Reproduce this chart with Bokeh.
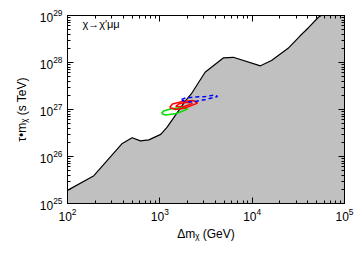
from bokeh.plotting import figure
from bokeh.models import LogAxis, Label, FixedTicker
from bokeh.embed import file_html
from bokeh.resources import INLINE

# boundary of excluded region (Delta m in GeV, tau*m in s TeV)
bound_x = [100, 193, 392, 501, 617, 760, 1023, 1200, 1900, 2190, 3090, 4900, 6240, 12300, 16200, 24500, 33100, 40700, 52500, 56200, 100000]
bound_y = [1.9e25, 3.9e25, 1.9e26, 2.5e26, 2.15e26, 2.26e26, 2.95e26, 4.2e26, 1.55e27, 2.14e27, 6.2e27, 1.26e28, 1.29e28, 8.5e27, 1.1e28, 2.0e28, 3.7e28, 5.5e28, 9.3e28, 1.0e29, 3.0e29]

# fit contours
red_out_x = [1274, 1479, 1897, 2559, 2317, 1762, 1374, 1274]
red_out_y = [1.10e27, 1.0e27, 1.08e27, 1.37e27, 1.55e27, 1.48e27, 1.31e27, 1.10e27]
red_in_x = [1479, 1850, 2260, 1950, 1600, 1479]
red_in_y = [1.16e27, 1.16e27, 1.35e27, 1.42e27, 1.31e27, 1.16e27]
green_x = [1042, 1153, 1517, 1995, 1852, 1374, 1096, 1042]
green_y = [8.2e26, 7.64e26, 8.2e26, 1.02e27, 1.10e27, 1.05e27, 9.3e26, 8.2e26]
blue_x = [1718, 1897, 2437, 3127, 4217, 3917, 3127, 2437, 1897, 1718]
blue_y = [1.63e27, 1.45e27, 1.48e27, 1.63e27, 1.89e27, 2.04e27, 1.89e27, 1.85e27, 1.76e27, 1.63e27]

x_ticks = [1e2, 1e3, 1e4, 1e5]
y_ticks = [1e25, 1e26, 1e27, 1e28, 1e29]

p = figure(width=358, height=250, x_axis_type="log", y_axis_type="log",
           x_range=(1e2, 1e5), y_range=(1e25, 1e29),
           output_backend="svg", toolbar_location=None,
           min_border_left=67, min_border_right=14, min_border_top=15, min_border_bottom=47)
p.grid.visible = False
p.outline_line_color = "black"
p.outline_line_width = 1

px = bound_x + [1e5, 1e2]
py = bound_y + [1e25, 1e25]
p.patch(px, py, fill_color="#c0c0c0", line_color=None)
p.line(bound_x, bound_y, line_color="black", line_width=1.2)

p.line(green_x, green_y, line_color="#00dd00", line_width=1.5)
p.line(red_out_x, red_out_y, line_color="red", line_width=1.5)
p.line(red_in_x, red_in_y, line_color="red", line_width=1.5)
p.line(blue_x, blue_y, line_color="blue", line_width=1.5, line_dash="4 3")

def minors(t):
    return [a * b for a in t[:-1] for b in range(2, 10)]

def style(ax):
    ax.major_tick_in = 6
    ax.major_tick_out = 0
    ax.minor_tick_in = 3
    ax.minor_tick_out = 0
    ax.axis_line_color = "black"
    ax.major_tick_line_color = "black"
    ax.minor_tick_line_color = "black"
    ax.major_label_text_font = "Liberation Sans"
    ax.major_label_text_font_size = "12px"
    ax.major_label_text_color = "black"
    ax.axis_label_text_font = "Liberation Sans"
    ax.axis_label_text_font_size = "12px"
    ax.axis_label_text_font_style = "normal"
    ax.axis_label_text_color = "black"

style(p.xaxis[0])
style(p.yaxis[0])
p.xaxis[0].ticker = FixedTicker(ticks=x_ticks, minor_ticks=minors(x_ticks))
p.yaxis[0].ticker = FixedTicker(ticks=y_ticks, minor_ticks=minors(y_ticks))
p.xaxis[0].axis_label = "Δmᵪ (GeV)"
p.yaxis[0].axis_label = "τ•mᵪ (s TeV)"
p.xaxis[0].major_label_standoff = 4
p.yaxis[0].major_label_standoff = 5
p.xaxis[0].axis_label_standoff = 3
p.yaxis[0].axis_label_standoff = 8

ta = LogAxis(ticker=FixedTicker(ticks=x_ticks, minor_ticks=minors(x_ticks)))
style(ta)
ta.major_label_text_font_size = "1px"
ta.major_label_text_color = None
ta.major_label_standoff = 0
p.add_layout(ta, "above")
ra = LogAxis(ticker=FixedTicker(ticks=y_ticks, minor_ticks=minors(y_ticks)))
style(ra)
ra.major_label_text_font_size = "1px"
ra.major_label_text_color = None
ra.major_label_standoff = 0
p.add_layout(ra, "right")

p.add_layout(Label(x=145, y=5.0e28, text="χ→χ′μμ", text_font="Liberation Sans",
                   text_font_size="11px", text_color="black"))

open("out.html", "w").write(file_html(p, INLINE))
